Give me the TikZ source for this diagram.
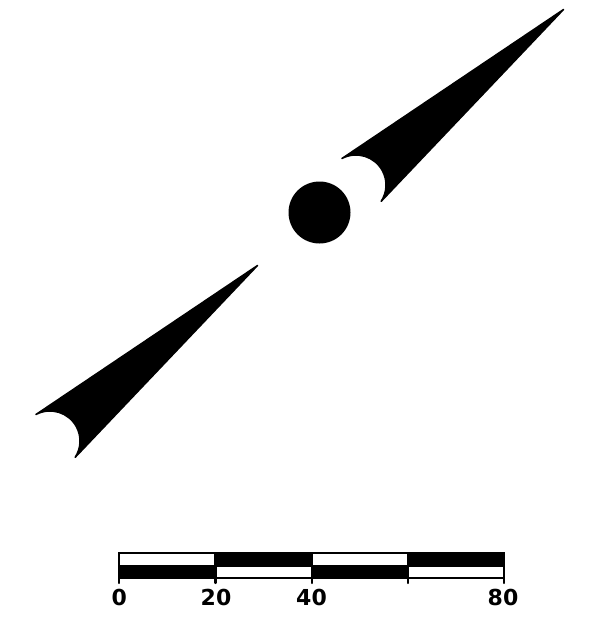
\documentclass[tikz,border=0pt]{standalone}
\usepackage{fontspec}
\setsansfont{DejaVu Sans}
\usepackage{tikz}

\begin{document}
\begin{tikzpicture}[
    x=1pt, y=1pt,
    needle/.pic={\filldraw[line width=1.5pt, line join=round] (207.5,175.5) -- (118:30) arc[start angle=118, end angle=-33, radius=30] -- cycle;},
    hubdot/.style={circle, fill, inner sep=0pt, minimum size=62pt},
    barframe/.style={line width=2.2pt},
    barmark/.style={line width=2.2pt, line cap=round},
    scalelabel/.style={anchor=base, inner sep=0pt, font=\sffamily\bfseries\fontsize{22}{22}\selectfont}
]
    \useasboundingbox (0,0) rectangle (589,-634);

    % the two halves of the needle and the hub
    \pic (upper) at (356,-185) {needle};
    \pic (lower) at (50,-441) {needle};
    \node[hubdot] (hub) at (319.5,-212.5) {};

    % scale bar
    \coordinate (s0) at (119.3,-553.3);
    \coordinate (s20) at (215.5,-553.3);
    \coordinate (s40) at (311.7,-553.3);
    \coordinate (s60) at (407.9,-553.3);
    \coordinate (s80) at (504.1,-553.3);

    \fill (s20) rectangle ([yshift=-12.7pt]s40);
    \fill (s60) rectangle ([yshift=-12.7pt]s80);
    \fill ([yshift=-12.7pt]s0) rectangle ([yshift=-25pt]s20);
    \fill ([yshift=-12.7pt]s40) rectangle ([yshift=-25pt]s60);
    \draw[barframe] (s0) rectangle ([yshift=-25pt]s80);
    \draw[barframe] ([yshift=-12.7pt]s0) -- ([yshift=-12.7pt]s80);

    \draw[barmark] (s0) -- ([yshift=-29.7pt]s0);
    \draw[barmark] (s20) -- ([yshift=-29.7pt]s20);
    \draw[barmark] (s40) -- ([yshift=-29.7pt]s40);
    \draw[barmark] (s60) -- ([yshift=-29.7pt]s60);
    \draw[barmark] (s80) -- ([yshift=-29.7pt]s80);

    \node[scalelabel] (l0) at (119.3,-605) {0};
    \node[scalelabel] (l20) at (216,-605) {20};
    \node[scalelabel] (l40) at (311.5,-605) {40};
    \node[scalelabel] (l80) at (503,-605) {80};
\end{tikzpicture}
\end{document}
